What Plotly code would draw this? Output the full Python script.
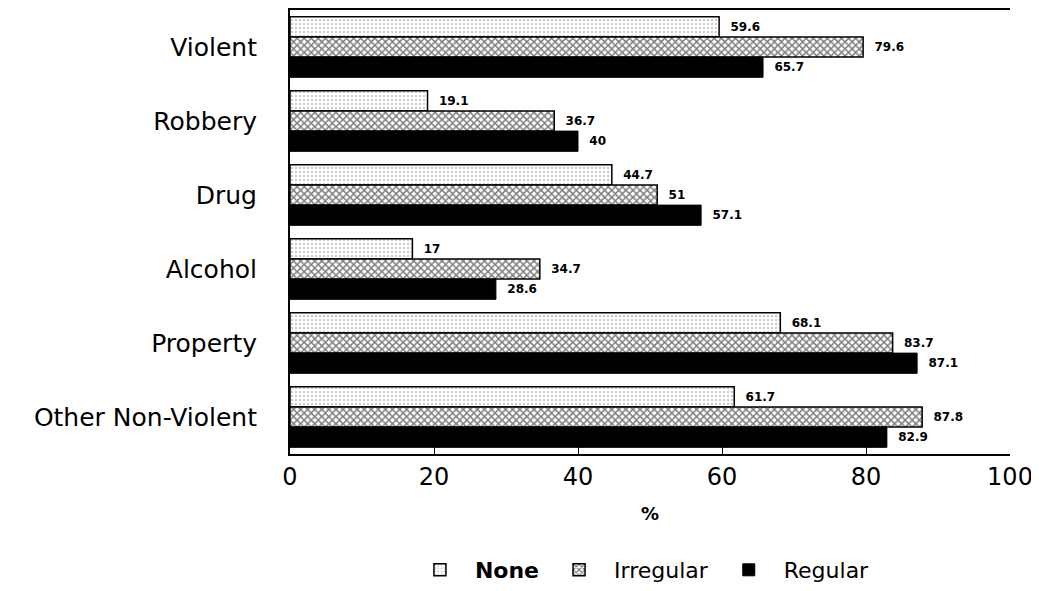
import plotly.graph_objects as go

categories = ["Violent", "Robbery", "Drug", "Alcohol", "Property", "Other Non-Violent"]
none_vals = [59.6, 19.1, 44.7, 17, 68.1, 61.7]
irregular_vals = [79.6, 36.7, 51, 34.7, 83.7, 87.8]
regular_vals = [65.7, 40, 57.1, 28.6, 87.1, 82.9]
series_names = ["<b>None</b>", "Irregular", "Regular"]
x_ticks = [0, 20, 40, 60, 80, 100]

FONT = "DejaVu Sans"
PAD = "\u00a0\u00a0"

def fmt(v):
    return PAD + f"{v:g}"

fig = go.Figure()
fig.add_trace(go.Bar(
    y=categories, x=none_vals, orientation="h", name=series_names[0],
    text=[fmt(v) for v in none_vals], textposition="outside",
    marker=dict(color="white", line=dict(color="black", width=1.5),
                pattern=dict(shape=".", fgcolor="#999999", bgcolor="white", size=4, solidity=0.3)),
))
fig.add_trace(go.Bar(
    y=categories, x=irregular_vals, orientation="h", name=series_names[1],
    text=[fmt(v) for v in irregular_vals], textposition="outside",
    marker=dict(color="white", line=dict(color="black", width=1.5),
                pattern=dict(shape="x", fgcolor="black", bgcolor="white", size=5, solidity=0.5)),
))
fig.add_trace(go.Bar(
    y=categories, x=regular_vals, orientation="h", name=series_names[2],
    text=[fmt(v) for v in regular_vals], textposition="outside",
    marker=dict(color="black", line=dict(color="black", width=1)),
))

fig.update_layout(
    width=1031, height=583,
    margin=dict(l=282, r=29, t=0, b=136),
    barmode="group", bargap=0.18, bargroupgap=0,
    plot_bgcolor="white", paper_bgcolor="white",
    font=dict(family=FONT, color="black", size=20),
    uniformtext=dict(minsize=11, mode="show"),
    showlegend=True,
    legend=dict(orientation="h", x=0.486, xanchor="center", y=-0.262, yanchor="middle",
                font=dict(size=22, family=FONT), traceorder="normal", itemwidth=60),
)
fig.update_traces(textfont=dict(size=12, family="DejaVu Sans", color="black", weight="bold"),
                  cliponaxis=False)
fig.update_xaxes(
    range=[0, 100], tickvals=x_ticks, ticktext=[str(t) for t in x_ticks],
    showgrid=False, zeroline=False, showline=True, linecolor="black", linewidth=2,
    mirror=True, ticks="inside", ticklen=8, tickcolor="black",
    tickfont=dict(size=24, family=FONT),
    title=dict(text="<b>%</b>", font=dict(size=18, family=FONT), standoff=18),
)
fig.update_yaxes(
    autorange="reversed", showgrid=False, showline=True, linecolor="black", linewidth=2,
    ticks="", tickfont=dict(size=25, family=FONT), ticklabelstandoff=26,
)

fig.write_html("out.html")
